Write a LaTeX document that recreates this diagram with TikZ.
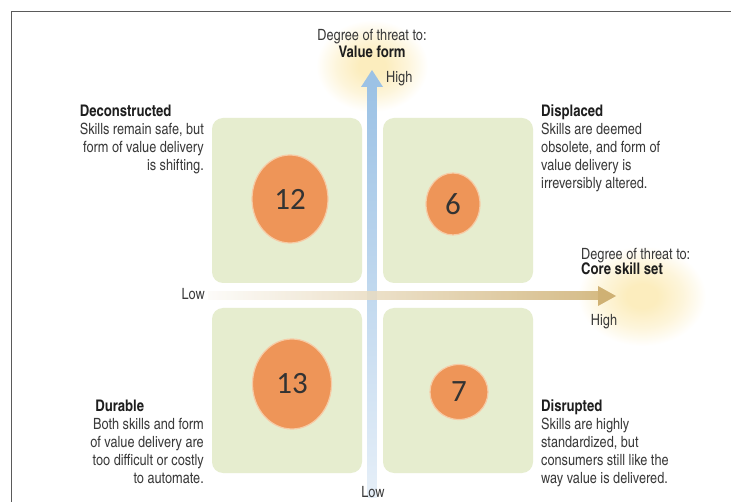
\documentclass[tikz,border=0pt]{standalone}
\usepackage{fontspec}
\setmainfont{texgyreheroscn}[Extension=.otf,UprightFont=*-regular,BoldFont=*-bold,ItalicFont=*-italic,BoldItalicFont=*-bolditalic]
\newfontfamily\numfont{Carlito}
\usetikzlibrary{calc,shapes.geometric}
\definecolor{boxfill}{HTML}{E6EDCF}
\definecolor{blobfill}{HTML}{EE9558}
\definecolor{blobedge}{HTML}{F6CBA6}
\definecolor{numtext}{HTML}{333333}
\definecolor{vblue}{HTML}{9CC2E5}
\definecolor{vpale}{HTML}{E6EFF8}
\definecolor{htan}{HTML}{CFB174}
\definecolor{glowc}{HTML}{FCEDBE}
\definecolor{bodytext}{HTML}{3A3A3A}
\definecolor{titletext}{HTML}{1E1E1E}
\definecolor{framec}{HTML}{5A5A5A}
\pgfdeclareradialshading{glowshade}{\pgfpointorigin}{color(0bp)=(glowc); color(6bp)=(glowc); color(16bp)=(glowc!55!white); color(25bp)=(white); color(50bp)=(white)}
\newcommand\ttlfont{\bfseries\fontsize{16}{18}\selectfont\color{titletext}}
\begin{document}
\begin{tikzpicture}[x=1pt,y=-1pt,
  qbox/.style={fill=boxfill, rounded corners=11pt, minimum width=150pt, minimum height=165pt, inner sep=0pt},
  blob/.style={ellipse, fill=blobfill, draw=blobedge, line width=1.2pt, inner sep=0pt, font=\numfont\fontsize{31}{31}\selectfont, text=numtext},
  lbl/.style={inner sep=0pt, text=bodytext, font=\fontsize{15.5}{18}\selectfont},
  ttl/.style={inner sep=0pt, text=titletext, font=\bfseries\fontsize{16}{18}\selectfont}]
\useasboundingbox (0,0) rectangle (731,502);
\fill[white] (0,0) rectangle (731,502);
\draw[framec, line width=1.6pt] (731,11.5) -- (11.5,11.5) -- (11.5,502);
% glows
\shade[shading=glowshade] (372,66) ellipse [x radius=56, y radius=46];
\shade[shading=glowshade] (642,296) ellipse [x radius=64, y radius=50];
% quadrants
\node[qbox] (q1) at (287,200.5) {};
\node[qbox] (q2) at (458,200.5) {};
\node[qbox] (q3) at (287,390.5) {};
\node[qbox] (q4) at (458,390.5) {};
% axes
\coordinate (vtail) at (372,497);
\coordinate (vtip) at (372,70);
\coordinate (htail) at (208,296);
\coordinate (htip) at (616,296);
\shade[top color=vblue, bottom color=vpale] ($(vtail)+(-4.5,0)$) rectangle ($(vtip)+(4.5,17)$);
\fill[vblue] (vtip) -- ($(vtip)+(11,17)$) -- ($(vtip)+(-11,17)$) -- cycle;
\shade[left color=htan!5, right color=htan, opacity=0.85] ($(htail)+(0,-4)$) rectangle ($(htip)+(-18,4)$);
\fill[htan] (htip) -- ($(htip)+(-18,-10)$) -- ($(htip)+(-18,10)$) -- cycle;
% numbers
\node[blob, minimum width=76pt, minimum height=88pt] (n12) at (290,199) {12};
\node[blob, minimum width=54pt, minimum height=62pt] (n6) at (453,204) {6};
\node[blob, minimum width=79pt, minimum height=90pt] (n13) at (292,384) {13};
\node[blob, minimum width=58pt, minimum height=55pt] (n7) at (459,392) {7};
% axis labels
\node[lbl, anchor=base] (vdeg) at (372,41) {Degree of threat to:};
\node[ttl, anchor=base] (vname) at (372,58) {Value form};
\node[lbl, anchor=base west] (vhigh) at (386,83) {High};
\node[lbl, anchor=base] (vlow) at (373,497) {Low};
\node[lbl, anchor=base west] (hdeg) at (581,260) {Degree of threat to:};
\node[ttl, anchor=base west] (hname) at (581,275) {Core skill set};
\node[lbl, anchor=base] (hhigh) at (604,326) {High};
\node[lbl, anchor=base east] (hlow) at (205,300) {Low};
% quadrant descriptions
\node[lbl, anchor=base east] (decon) at (204,117) {\begin{tabular}[t]{@{}r@{}}\multicolumn{1}{@{}l@{}}{\ttlfont Deconstructed}\\ Skills remain safe, but\\ form of value delivery\\ is shifting.\end{tabular}};
\node[lbl, anchor=base west] (displ) at (541,117) {\begin{tabular}[t]{@{}l@{}}{\ttlfont Displaced}\\ Skills are deemed\\ obsolete, and form of\\ value delivery is\\ irreversibly altered.\end{tabular}};
\node[lbl, anchor=base east] (durab) at (204,412) {\begin{tabular}[t]{@{}r@{}}\multicolumn{1}{@{}l@{}}{\hspace*{5pt}\ttlfont Durable}\\ Both skills and form\\ of value delivery are\\ too difficult or costly\\ to automate.\end{tabular}};
\node[lbl, anchor=base west] (disru) at (541,412) {\begin{tabular}[t]{@{}l@{}}{\ttlfont Disrupted}\\ Skills are highly\\ standardized, but\\ consumers still like the\\ way value is delivered.\end{tabular}};
\end{tikzpicture}
\end{document}
